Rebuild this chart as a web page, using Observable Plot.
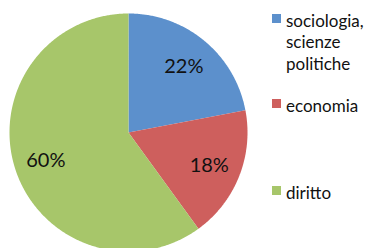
<!DOCTYPE html>
<html>
<head>
<meta charset="utf-8">
<script src="https://cdn.jsdelivr.net/npm/d3@7"></script>
<script src="https://cdn.jsdelivr.net/npm/@observablehq/plot@0.6"></script>
<style>
  html, body { margin: 0; padding: 0; background: #fff; }
  #wrap { position: relative; width: 369px; height: 248px; overflow: hidden; font-family: Lato, "Open Sans", sans-serif; }
  #chart { position: absolute; left: 0; top: 0; }
  .item { position: absolute; left: 286px; width: 83px; font-size: 17px; line-height: 21.5px; color: #111; }
  .sw { position: absolute; left: -14px; top: 4.3px; width: 9px; height: 9px; }
</style>
</head>
<body>
<div id="wrap"><div id="chart"></div></div>
<script>
// Data
const categories = ["sociologia, scienze politiche", "economia", "diritto"];
const values = [22, 18, 60];
const labels = ["22%", "18%", "60%"];
const colors = ["#5c90cc", "#ce5f5d", "#a7c66a"];

// Layout (not data)
const legendTops = [9.7, 94.7, 181.7];

const pie = d3.pie().sort(null).value(d => d.value).startAngle(0).endAngle(2 * Math.PI);
const rows = categories.map((c, i) => ({category: c, value: values[i], label: labels[i], color: colors[i]}));
const arcs = pie(rows);

// slice outlines as polygons in unit coordinates (y up)
const pts = [];
arcs.forEach((a, i) => {
  const cat = a.data.category;
  pts.push({cat, x: 0, y: 0});
  const n = Math.max(2, Math.ceil((a.endAngle - a.startAngle) / (Math.PI / 360)));
  for (let k = 0; k <= n; k++) {
    const t = a.startAngle + (a.endAngle - a.startAngle) * k / n;
    pts.push({cat, x: Math.sin(t), y: Math.cos(t)});
  }
  pts.push({cat, x: 0, y: 0});
});

const labelR = 0.73;
const labelPts = arcs.map(a => {
  const t = (a.startAngle + a.endAngle) / 2;
  return {text: a.data.label, x: labelR * Math.sin(t), y: labelR * Math.cos(t)};
});

const plot = Plot.plot({
  width: 262,
  height: 248,
  marginLeft: 9,
  marginRight: 15,
  marginTop: 13,
  marginBottom: 0,
  x: {domain: [-1, 1], axis: null},
  y: {domain: [-0.975, 1], axis: null},
  color: {domain: categories, range: colors},
  style: {fontFamily: "Lato, 'Open Sans', sans-serif", background: "transparent", overflow: "visible"},
  marks: [
    Plot.line(pts, {x: "x", y: "y", z: "cat", fill: "cat", stroke: "none", curve: "linear"}),
    Plot.text(labelPts, {x: "x", y: "y", text: "text", fontSize: 20, fill: "#111", dy: 1})
  ]
});
document.getElementById("chart").appendChild(plot);

const wrap = document.getElementById("wrap");
categories.forEach((c, i) => {
  const it = document.createElement("div");
  it.className = "item";
  it.style.top = legendTops[i] + "px";
  const sw = document.createElement("div");
  sw.className = "sw";
  sw.style.background = colors[i];
  it.appendChild(sw);
  it.appendChild(document.createTextNode(c));
  wrap.appendChild(it);
});
</script>
</body>
</html>
